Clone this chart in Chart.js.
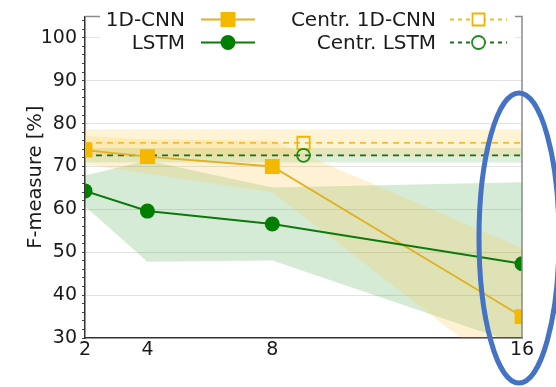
<!DOCTYPE html>
<html>
<head>
<meta charset="utf-8">
<script src="https://cdn.jsdelivr.net/npm/chart.js@4/dist/chart.umd.min.js"></script>
<style>
  html, body { margin: 0; padding: 0; background: #fff; }
  #wrap { width: 556px; height: 387px; position: relative; }
</style>
</head>
<body>
<div id="wrap"><canvas id="c" width="556" height="387"></canvas></div>
<script>
// Number of nodes on the x axis
const nodes = [2, 4, 8, 16];
const xTicks = [2, 4, 8, 16];
const yTicks = [30, 40, 50, 60, 70, 80, 90, 100];

// Federated results: mean F-measure and standard deviation
const cnnMean = [73.8, 72.3, 70.0, 35.0];
const cnnStd = [3.3, 4.0, 6.0, 16.0];
const lstmMean = [64.3, 59.6, 56.6, 47.3];
const lstmStd = [3.6, 11.8, 8.5, 19.0];

// Centralized baselines (constant across node counts)
const centrCnn = [75.5];
const centrCnnStd = [3.1];
const centrLstm = [72.6];
const centrLstmStd = [1.7];
const centrMarkerX = [9];

const FONT = 'DejaVu Sans';
const ORANGE = '#f5b800';
const ORANGE_LINE = '#e2b021';
const GREEN = '#007f00';
const GREEN_LINE = '#0b7a0b';
const GREEN_DASH = '#1b6e1b';
const ORANGE_DASH = '#f3bd2a';

const pts = (xs, ys) => xs.map((x, i) => ({ x, y: ys[i] }));
const span = (v) => [{ x: nodes[0], y: v }, { x: nodes[nodes.length - 1], y: v }];
const centrLine = (v) => [
  { x: nodes[0], y: v },
  { x: centrMarkerX[0], y: v },
  { x: nodes[nodes.length - 1], y: v }
];

const band = (data, fill, color) => ({
  data, fill, backgroundColor: color,
  borderColor: 'rgba(0,0,0,0)', borderWidth: 0,
  pointRadius: 0, pointHoverRadius: 0, tension: 0
});

const datasets = [
  {
    label: 'LSTM', data: pts(nodes, lstmMean),
    borderColor: GREEN_LINE, borderWidth: 2,
    pointStyle: 'circle', pointRadius: 7.5,
    pointBackgroundColor: GREEN, pointBorderColor: GREEN, pointBorderWidth: 0,
    fill: false, tension: 0
  },
  {
    label: '1D-CNN', data: pts(nodes, cnnMean),
    borderColor: ORANGE_LINE, borderWidth: 1.8,
    pointStyle: 'rect', pointRadius: 10.5,
    pointBackgroundColor: ORANGE, pointBorderColor: ORANGE, pointBorderWidth: 0,
    fill: false, tension: 0
  },
  {
    label: 'Centr. LSTM', data: centrLine(centrLstm[0]),
    borderColor: GREEN_DASH, borderWidth: 1.8, borderDash: [6, 5],
    pointStyle: 'circle', pointRadius: [0, 6.5, 0],
    pointBackgroundColor: 'rgba(0,0,0,0)', pointBorderColor: '#1f8a1f', pointBorderWidth: 1.8,
    fill: false, tension: 0
  },
  {
    label: 'Centr. 1D-CNN', data: centrLine(centrCnn[0]),
    borderColor: ORANGE_DASH, borderWidth: 1.8, borderDash: [6, 5],
    pointStyle: 'rect', pointRadius: [0, 8.7, 0],
    pointBackgroundColor: 'rgba(0,0,0,0)', pointBorderColor: '#f0b400', pointBorderWidth: 1.8,
    fill: false, tension: 0
  },
  // shaded ±std bands
  band(pts(nodes, cnnMean.map((m, i) => m + cnnStd[i])), '+1', 'rgba(255,190,40,0.20)'),
  band(pts(nodes, cnnMean.map((m, i) => m - cnnStd[i])), false, 'rgba(0,0,0,0)'),
  band(pts(nodes, lstmMean.map((m, i) => m + lstmStd[i])), '+1', 'rgba(0,128,0,0.16)'),
  band(pts(nodes, lstmMean.map((m, i) => m - lstmStd[i])), false, 'rgba(0,0,0,0)'),
  band(span(centrCnn[0] + centrCnnStd[0]), '+1', 'rgba(255,195,50,0.20)'),
  band(span(centrCnn[0] - centrCnnStd[0]), false, 'rgba(0,0,0,0)'),
  band(span(centrLstm[0] + centrLstmStd[0]), '+1', 'rgba(0,128,0,0.13)'),
  band(span(centrLstm[0] - centrLstmStd[0]), false, 'rgba(0,0,0,0)')
];

// Legend with labels to the left of their handles, two columns
const legendEntries = [
  { text: '1D-CNN', col: 0, row: 0, color: ORANGE_LINE, dash: [], marker: 'rect', fill: true, mcolor: ORANGE },
  { text: 'LSTM', col: 0, row: 1, color: GREEN_LINE, dash: [], marker: 'circle', fill: true, mcolor: GREEN },
  { text: 'Centr. 1D-CNN', col: 1, row: 0, color: ORANGE_DASH, dash: [4, 4], marker: 'rect', fill: false, mcolor: '#f0b400' },
  { text: 'Centr. LSTM', col: 1, row: 1, color: GREEN_DASH, dash: [4, 4], marker: 'circle', fill: false, mcolor: '#1f8a1f' }
];

const framePlugin = {
  id: 'frame',
  afterDraw(chart) {
    const ctx = chart.ctx;
    const a = chart.chartArea;
    ctx.save();
    // light top and right spines
    ctx.strokeStyle = '#8a8a8a';
    ctx.lineWidth = 1.5;
    ctx.beginPath();
    ctx.moveTo(a.left, a.top);
    ctx.lineTo(a.right, a.top);
    ctx.lineTo(a.right, a.bottom);
    ctx.stroke();

    // legend
    ctx.fillStyle = '#ffffff';
    ctx.fillRect(100, 8, 415, 46);
    const textRight = [185, 436];
    const lineX = [[201, 255], [450, 507]];
    const rowY = [19.5, 42.5];
    ctx.font = '20px "' + FONT + '"';
    ctx.textAlign = 'right';
    ctx.textBaseline = 'middle';
    legendEntries.forEach(e => {
      const y = rowY[e.row];
      ctx.fillStyle = '#1a1a1a';
      ctx.fillText(e.text, textRight[e.col], y + 1);
      const [x0, x1] = lineX[e.col];
      ctx.strokeStyle = e.color;
      ctx.lineWidth = 1.8;
      ctx.setLineDash(e.dash);
      ctx.beginPath();
      ctx.moveTo(x0, y);
      ctx.lineTo(x1, y);
      ctx.stroke();
      ctx.setLineDash([]);
      const cx = (x0 + x1) / 2;
      ctx.beginPath();
      if (e.marker === 'rect') {
        const h = e.fill ? 7.5 : 6;
        ctx.rect(cx - h, y - h, 2 * h, 2 * h);
      } else {
        ctx.arc(cx, y, e.fill ? 7.5 : 6.5, 0, Math.PI * 2);
      }
      if (e.fill) {
        ctx.fillStyle = e.mcolor;
        ctx.fill();
      } else {
        ctx.fillStyle = '#ffffff';
        ctx.fill();
        ctx.strokeStyle = e.mcolor;
        ctx.lineWidth = 1.8;
        ctx.stroke();
      }
    });

    // highlight ellipse around the 16-node results
    ctx.strokeStyle = '#4472c4';
    ctx.lineWidth = 5;
    ctx.beginPath();
    ctx.ellipse(519, 238, 40, 145, 0, 0, Math.PI * 2);
    ctx.stroke();
    ctx.restore();
  }
};

new Chart(document.getElementById('c'), {
  type: 'line',
  data: { datasets },
  options: {
    responsive: false,
    devicePixelRatio: 1,
    animation: false,
    events: [],
    layout: { padding: { top: 5, right: 34, left: 0, bottom: 0 } },
    plugins: {
      legend: { display: false },
      tooltip: { enabled: false },
      filler: { drawTime: 'beforeDatasetsDraw', propagate: false }
    },
    scales: {
      x: {
        type: 'linear', min: 2, max: 16,
        afterBuildTicks: s => { s.ticks = xTicks.map(v => ({ value: v })); },
        afterFit: s => { s.height = 49; },
        ticks: {
          autoSkip: false, maxRotation: 0, padding: 1,
          color: '#1a1a1a', font: { family: FONT, size: 19 }
        },
        grid: { display: false, drawTicks: false },
        border: { display: true, color: '#333333', width: 1.5 }
      },
      y: {
        type: 'linear', min: 30, max: 105,
        afterBuildTicks: s => {
          const t = [];
          for (let v = 30; v <= 104; v += 2) t.push({ value: v });
          s.ticks = t;
        },
        afterFit: s => { s.width = 85; },
        ticks: {
          autoSkip: false, padding: 5,
          color: '#1a1a1a', font: { family: FONT, size: 19 },
          callback: v => (yTicks.includes(v) ? String(v) : '')
        },
        grid: {
          color: c => (c.tick && yTicks.includes(c.tick.value) && c.tick.value > 30 ? '#e3e3e3' : 'rgba(0,0,0,0)'),
          tickColor: '#444444',
          tickLength: 3,
          lineWidth: 1
        },
        border: { display: true, color: '#333333', width: 1.5 },
        title: {
          display: true, text: 'F-measure [%]',
          color: '#1a1a1a', font: { family: FONT, size: 19.5 },
          padding: { top: 24, bottom: 0 }
        }
      }
    }
  },
  plugins: [framePlugin]
});
</script>
</body>
</html>
